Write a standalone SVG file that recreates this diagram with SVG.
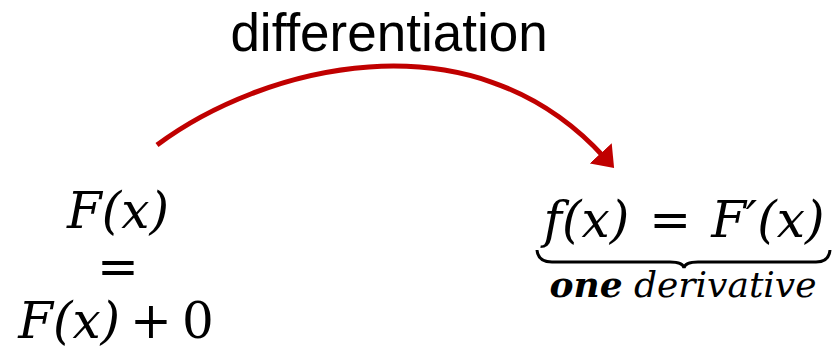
<svg xmlns="http://www.w3.org/2000/svg" width="836" height="360" viewBox="0 0 836 360">
<style>
.m{font-family:"DejaVu Serif","Liberation Serif",serif;font-style:italic;font-size:50px;fill:#000}
.u{font-style:normal}
.lbl{font-family:"Liberation Sans",Arial,sans-serif;font-size:53px;fill:#000}
.sm{font-family:"DejaVu Serif","Liberation Serif",serif;font-style:italic;font-size:36px;fill:#000}
</style>
<defs>
<marker id="ah" markerWidth="6" markerHeight="6" refX="1" refY="3" orient="auto" markerUnits="strokeWidth">
<path d="M0,0 L4,3 L0,6 Z" fill="#C00000"/>
</marker>
</defs>
<g id="connectors">
<path d="M157,145 C260,68 470,10 604,157" fill="none" stroke="#C00000" stroke-width="5" marker-end="url(#ah)"/>
<text class="lbl" x="389" y="51" text-anchor="middle">differentiation</text>
</g>
<g id="left">
<text class="m" x="118" y="228" text-anchor="middle">F(x)</text>
<text class="m u" x="118" y="284" text-anchor="middle">=</text>
<text class="m" x="116" y="338" text-anchor="middle">F(x)<tspan class="u" dx="10">+</tspan><tspan class="u" dx="10">0</tspan></text>
</g>
<g id="right">
<text class="m" x="684" y="237" text-anchor="middle">f(x)<tspan class="u" dx="20">=</tspan><tspan dx="20">F′(x)</tspan></text>
<path d="M537,250 Q538,262 552,262 L670,262 Q683,262 684,268 Q685,262 698,262 L816,262 Q829,262 830,250" fill="none" stroke="#000" stroke-width="3"/>
<text class="sm" x="683" y="297" text-anchor="middle"><tspan font-weight="bold">one</tspan> derivative</text>
</g>
</svg>
